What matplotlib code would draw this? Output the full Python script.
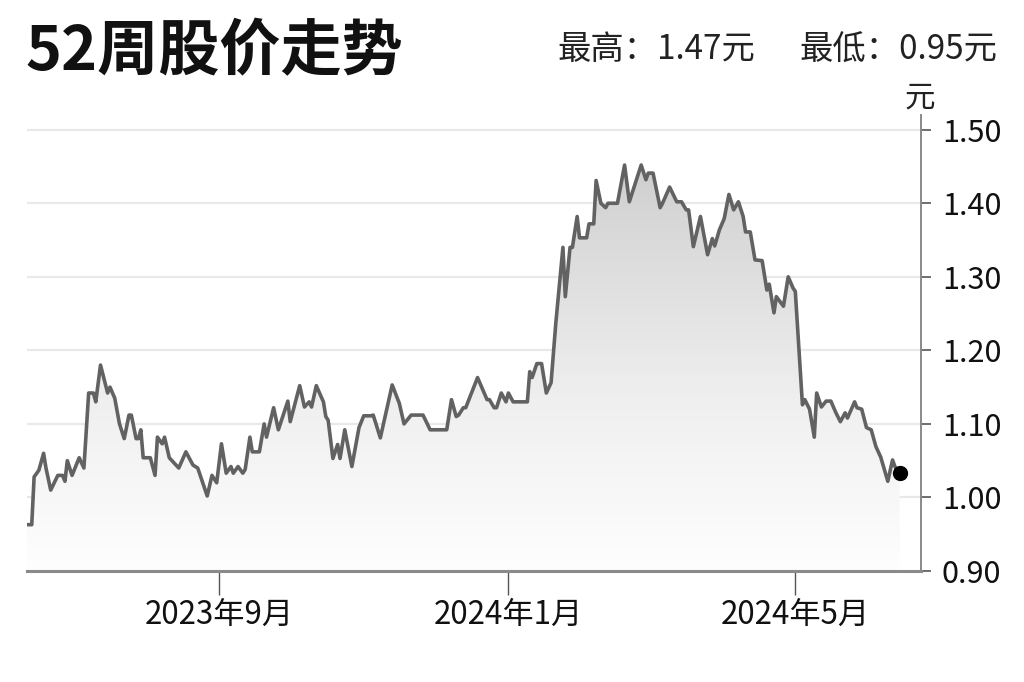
import numpy as np
import pandas as pd
import matplotlib
matplotlib.use('Agg')
import matplotlib.pyplot as plt
import matplotlib.dates as mdates
from matplotlib.patches import Polygon

plt.rcParams['font.family'] = ['Noto Sans CJK SC', 'DejaVu Sans']

dates = [
    '2023-06-12', '2023-06-14', '2023-06-15', '2023-06-17', '2023-06-19', '2023-06-20',
    '2023-06-22', '2023-06-25', '2023-06-27', '2023-06-28', '2023-06-29', '2023-07-01',
    '2023-07-04', '2023-07-06', '2023-07-08', '2023-07-10', '2023-07-11', '2023-07-13',
    '2023-07-16', '2023-07-17', '2023-07-19', '2023-07-21', '2023-07-23', '2023-07-25',
    '2023-07-26', '2023-07-28', '2023-07-29', '2023-07-30', '2023-07-31', '2023-08-03',
    '2023-08-05', '2023-08-06', '2023-08-08', '2023-08-09', '2023-08-11', '2023-08-15',
    '2023-08-18', '2023-08-21', '2023-08-23', '2023-08-27', '2023-08-29', '2023-08-31',
    '2023-09-02', '2023-09-04', '2023-09-06', '2023-09-07', '2023-09-09', '2023-09-11',
    '2023-09-12', '2023-09-14', '2023-09-15', '2023-09-18', '2023-09-20', '2023-09-21',
    '2023-09-24', '2023-09-26', '2023-09-30', '2023-10-01', '2023-10-05', '2023-10-07',
    '2023-10-09', '2023-10-10', '2023-10-12', '2023-10-15', '2023-10-16', '2023-10-17',
    '2023-10-19', '2023-10-21', '2023-10-22', '2023-10-24', '2023-10-27', '2023-10-30',
    '2023-11-01', '2023-11-04', '2023-11-05', '2023-11-08', '2023-11-13', '2023-11-16',
    '2023-11-18', '2023-11-21', '2023-11-26', '2023-11-29', '2023-12-06', '2023-12-08',
    '2023-12-10', '2023-12-11', '2023-12-13', '2023-12-14', '2023-12-19', '2023-12-23',
    '2023-12-24', '2023-12-26', '2023-12-27', '2023-12-29', '2023-12-31', '2024-01-01',
    '2024-01-03', '2024-01-09', '2024-01-10', '2024-01-11', '2024-01-13', '2024-01-15',
    '2024-01-17', '2024-01-19', '2024-01-21', '2024-01-24', '2024-01-25', '2024-01-27',
    '2024-01-28', '2024-01-30', '2024-01-31', '2024-02-03', '2024-02-04', '2024-02-06',
    '2024-02-07', '2024-02-09', '2024-02-11', '2024-02-12', '2024-02-16', '2024-02-19',
    '2024-02-21', '2024-02-26', '2024-02-28', '2024-02-29', '2024-03-02', '2024-03-05',
    '2024-03-06', '2024-03-09', '2024-03-12', '2024-03-14', '2024-03-16', '2024-03-17',
    '2024-03-19', '2024-03-22', '2024-03-25', '2024-03-27', '2024-03-28', '2024-03-30',
    '2024-04-01', '2024-04-03', '2024-04-05', '2024-04-07', '2024-04-09', '2024-04-10',
    '2024-04-12', '2024-04-14', '2024-04-17', '2024-04-19', '2024-04-20', '2024-04-22',
    '2024-04-23', '2024-04-26', '2024-04-28', '2024-04-30', '2024-05-01', '2024-05-04',
    '2024-05-05', '2024-05-07', '2024-05-09', '2024-05-10', '2024-05-12', '2024-05-14',
    '2024-05-16', '2024-05-18', '2024-05-20', '2024-05-22', '2024-05-23', '2024-05-26',
    '2024-05-27', '2024-05-29', '2024-05-31', '2024-06-02', '2024-06-04', '2024-06-06',
    '2024-06-09', '2024-06-11', '2024-06-12', '2024-06-14',
]
prices = [
    0.963, 0.963, 1.028, 1.037, 1.060, 1.040,
    1.010, 1.030, 1.030, 1.022, 1.050, 1.030,
    1.054, 1.040, 1.142, 1.142, 1.130, 1.180,
    1.142, 1.150, 1.135, 1.100, 1.080, 1.112,
    1.112, 1.080, 1.080, 1.092, 1.054, 1.054,
    1.030, 1.082, 1.073, 1.082, 1.054, 1.040,
    1.062, 1.044, 1.040, 1.002, 1.030, 1.020,
    1.073, 1.033, 1.042, 1.033, 1.042, 1.033,
    1.038, 1.082, 1.062, 1.062, 1.100, 1.082,
    1.122, 1.092, 1.131, 1.103, 1.152, 1.123,
    1.130, 1.123, 1.152, 1.130, 1.110, 1.105,
    1.053, 1.072, 1.053, 1.092, 1.042, 1.095,
    1.111, 1.111, 1.112, 1.081, 1.153, 1.128,
    1.100, 1.112, 1.112, 1.092, 1.092, 1.133,
    1.110, 1.112, 1.122, 1.122, 1.163, 1.133,
    1.133, 1.122, 1.122, 1.142, 1.130, 1.142,
    1.130, 1.130, 1.171, 1.163, 1.182, 1.182,
    1.142, 1.156, 1.237, 1.340, 1.273, 1.340,
    1.340, 1.382, 1.353, 1.353, 1.372, 1.372,
    1.431, 1.400, 1.394, 1.400, 1.400, 1.452,
    1.402, 1.452, 1.432, 1.441, 1.441, 1.394,
    1.400, 1.422, 1.402, 1.402, 1.391, 1.391,
    1.341, 1.382, 1.330, 1.352, 1.342, 1.364,
    1.379, 1.412, 1.391, 1.402, 1.382, 1.361,
    1.361, 1.323, 1.322, 1.282, 1.290, 1.251,
    1.273, 1.260, 1.300, 1.285, 1.280, 1.126,
    1.133, 1.120, 1.082, 1.142, 1.123, 1.131,
    1.131, 1.116, 1.103, 1.115, 1.108, 1.130,
    1.122, 1.120, 1.095, 1.092, 1.069, 1.055,
    1.022, 1.051, 1.042, 1.033,
]

title = '52周股价走势'
high_text = '最高：1.47元'
low_text = '最低：0.95元'
unit = '元'
y_ticks = [0.90, 1.00, 1.10, 1.20, 1.30, 1.40, 1.50]
x_ticks = ['2023-09-01', '2024-01-01', '2024-05-01']
x_tick_labels = ['2023年9月', '2024年1月', '2024年5月']
x_start, x_end = '2023-06-12', '2024-06-23'

x = mdates.date2num(pd.to_datetime(dates))
y = np.array(prices)

fig = plt.figure(figsize=(10.24, 6.82), dpi=100)
ax = fig.add_axes([27 / 1024, 1 - 571 / 682, (921 - 27) / 1024, (571 - 115) / 682])

ymin, ymax = 0.90, 1.52
xmin, xmax = mdates.date2num(pd.to_datetime([x_start, x_end]))
ax.set_xlim(xmin, xmax)
ax.set_ylim(ymin, ymax)

# gradient fill under the line, light at the bottom
grad = np.linspace(0, 1, 256).reshape(-1, 1)
img = ax.imshow(grad, cmap='Greys', vmin=-0.04, vmax=3.4, aspect='auto',
                extent=[x[0], x[-1], ymin, 1.46], origin='lower', zorder=1)
poly = Polygon(np.column_stack([np.r_[x[0], x, x[-1]], np.r_[ymin, y, ymin]]),
               closed=True, facecolor='none', edgecolor='none')
ax.add_patch(poly)
img.set_clip_path(poly)

for t in y_ticks[1:]:
    ax.axhline(t, color='#e9e9e9', lw=1.6, zorder=0)

ax.plot(x, y, color='#626262', lw=2.6, zorder=3, solid_joinstyle='round')
ax.plot(x[-1], y[-1], 'o', color='black', ms=10, zorder=4)

for s in ['top', 'left']:
    ax.spines[s].set_visible(False)
ax.spines['bottom'].set_color('#8a8a8a')
ax.spines['bottom'].set_linewidth(2.2)
ax.spines['right'].set_color('#8a8a8a')
ax.spines['right'].set_linewidth(1.4)

ax.yaxis.tick_right()
ax.set_yticks(y_ticks)
ax.set_yticklabels([f'{v:.2f}' for v in y_ticks])
ax.tick_params(axis='y', length=7, width=1.2, color='#555555', labelsize=22, pad=8,
               labelcolor='#111111')
ax.set_xticks(mdates.date2num(pd.to_datetime(x_ticks)))
ax.set_xticklabels(x_tick_labels)
ax.tick_params(axis='x', length=17, width=1.0, color='#555555', labelsize=22.5, pad=3,
               labelcolor='#111111')

fig.text(25 / 1024, 1 - 52 / 682, title, fontsize=44, fontweight='heavy', va='center',
         ha='left', color='#111111')
fig.text(755 / 1024, 1 - 50 / 682, high_text, fontsize=24, va='center', ha='right',
         color='#222222')
fig.text(997 / 1024, 1 - 50 / 682, low_text, fontsize=24, va='center', ha='right',
         color='#222222')
fig.text(920 / 1024, 1 - 98 / 682, unit, fontsize=22, va='center', ha='center',
         color='#222222')

fig.savefig('out.png', dpi=100, facecolor='white')
